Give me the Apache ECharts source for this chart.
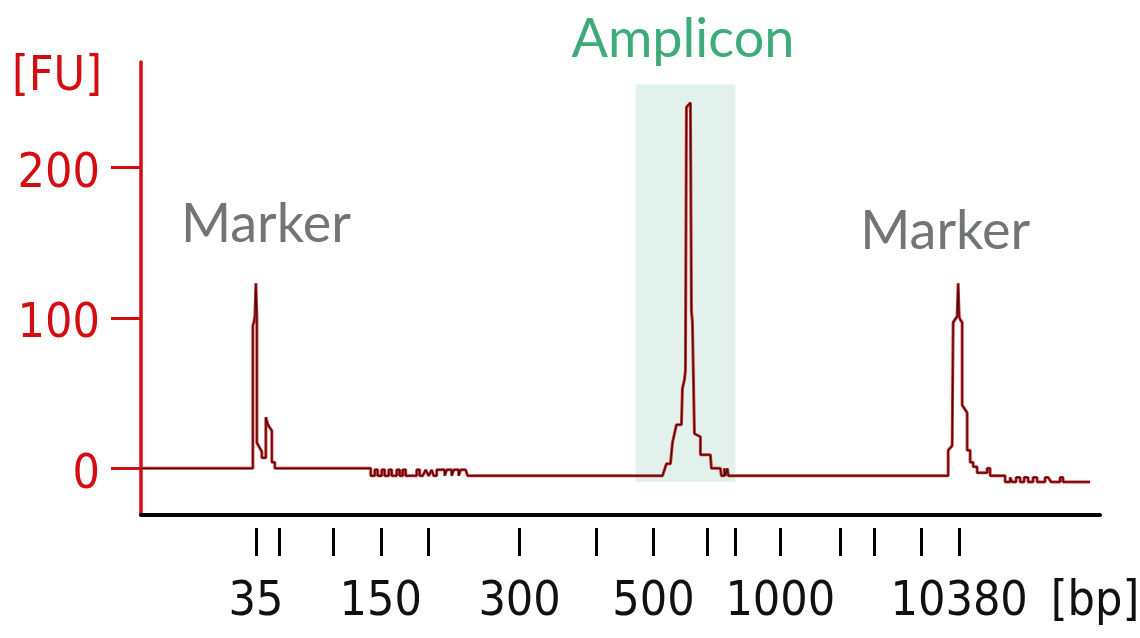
<!DOCTYPE html>
<html>
<head>
<meta charset="utf-8">
<script src="https://cdn.jsdelivr.net/npm/echarts@6/dist/echarts.min.js"></script>
<style>
html,body{margin:0;padding:0;background:#fff;}
#chart{width:1140px;height:638px;}
</style>
</head>
<body>
<div id="chart"></div>
<script>
// Ladder (size standard) positions on the migration-time axis
const ladderBp   = [35, 50, 100, 150, 200, 300, 400, 500, 600, 700, 1000, 2000, 3000, 7000, 10380];
const ladderTime = [41.5, 43.8, 49.2, 54.0, 58.8, 67.9, 75.6, 81.3, 86.7, 89.5, 94.0, 100.0, 103.4, 108.1, 111.9];
const labeledBp  = [35, 150, 300, 500, 1000, 10380];
const yTicks     = [0, 100, 200];

// Electropherogram trace: migration time (s) vs fluorescence (FU)
const traceTime = [
  30.0, 41.2, 41.2, 41.3, 41.4, 41.5, 41.6, 41.6, 42.1, 42.1, 42.5, 42.5, 42.7, 43.1, 43.1, 43.4, 43.4,
  53.0, 53.0, 53.4, 53.4, 53.7, 53.7, 54.1, 54.1, 54.4, 54.4, 54.8, 54.8, 55.1, 55.1, 55.6, 55.6, 55.9, 55.9,
  56.2, 56.2, 56.5, 56.5, 57.6, 57.6, 57.9, 57.9, 58.2, 58.5, 58.8, 59.1, 59.3, 59.3, 59.6, 59.6, 60.4, 60.4,
  60.6, 60.6, 61.1, 61.1, 61.3, 61.3, 61.8, 61.8, 62.0, 62.0, 62.5, 62.7, 63.0, 64.0,
  82.2, 82.6, 83.0, 83.2, 83.6, 84.1, 84.2, 84.4, 84.5, 84.6, 85.0, 85.1, 85.2, 85.4, 86.0, 86.0, 87.0, 87.1,
  88.0, 88.1, 88.4, 88.4, 88.5, 88.5, 88.7, 88.7, 88.8, 88.8,
  110.8, 110.8, 111.2, 111.3, 111.7, 111.8, 111.9, 112.0, 112.2, 112.2, 112.7, 112.7, 113.0, 113.0, 113.3,
  113.3, 113.7, 113.7, 114.7, 114.7, 115.0, 115.0, 116.5, 116.5, 117.0, 117.0, 117.2, 117.2, 117.6, 117.6,
  118.0, 118.0, 118.4, 118.4, 118.8, 118.8, 119.3, 119.3, 119.7, 119.7, 120.5, 120.5, 120.8, 121.1, 122.0,
  122.0, 122.3, 122.3, 125.0
];
const traceFU = [
  0, 0, 95, 97, 101, 123, 101, 17, 11, 7, 7, 34, 29, 25, 4, 4, 0,
  0, -5, -5, -1, -1, -5, -5, -1, -1, -5, -5, -1, -1, -5, -5, -1, -1, -5,
  -5, -1, -1, -5, -5, -1, -1, -5, -5, -1, -5, -1, -1, -5, -5, -1, -1, -5,
  -5, -1, -1, -5, -5, -1, -1, -5, -5, -1, -1, -5, -5, -5,
  -5, 3, 3, 17, 29, 29, 53, 59, 65, 240, 243, 105, 97, 23, 21, 9, 9, 0,
  0, -5, -5, 0, 0, -5, -5, 0, 0, -5,
  -5, 12, 15, 97, 101, 123, 101, 99, 97, 42, 37, 12, 12, 4, 4,
  1, 1, -3, -3, 0, 0, -5, -5, -9, -9, -6, -6, -9, -9, -6,
  -6, -9, -9, -6, -6, -9, -9, -6, -6, -9, -9, -6, -6, -9, -9,
  -6, -6, -9, -9
];

// Amplicon highlight window
const ampliconWindow = {t0: 79.5, t1: 89.5, fu0: -9, fu1: 255};

// Annotations
const annoText  = ['Marker', 'Amplicon', 'Marker'];
const annoTime  = [42.5, 84.25, 110.5];
const annoFU    = [162, 285, 157];
const annoColor = ['#505153', '#0f9656', '#505153'];

const traceData = traceTime.map((t, i) => [t, traceFU[i]]);
const labelTimes = labeledBp.map(b => ladderTime[ladderBp.indexOf(b)]);

const narrow = "'Liberation Sans Narrow', 'DejaVu Sans Condensed', 'Arial Narrow', sans-serif";
const RED = '#d40d12';

const chart = echarts.init(document.getElementById('chart'), null, {renderer: 'canvas'});
chart.setOption({
  animation: false,
  backgroundColor: '#ffffff',
  grid: {left: 141, right: 40, top: 62, bottom: 123, containLabel: false, outerBoundsMode: 'none'},
  xAxis: [{
    type: 'value', min: 30, max: 126,
    axisLine: {show: true, onZero: false, lineStyle: {color: '#000', width: 4}},
    axisTick: {show: false}, axisLabel: {show: false}, splitLine: {show: false}
  }, {
    type: 'value', min: 30, max: 126, position: 'bottom', offset: 13,
    axisLine: {show: false, onZero: false},
    axisTick: {show: true, inside: false, customValues: ladderTime, length: 28, lineStyle: {color: '#000', width: 3}},
    axisLabel: {
      show: true, customValues: labelTimes, margin: 51,
      fontFamily: narrow, fontSize: 48, color: '#111',
      formatter: v => {
        let best = 0;
        ladderTime.forEach((t, i) => { if (Math.abs(t - v) < Math.abs(ladderTime[best] - v)) best = i; });
        return String(ladderBp[best]);
      }
    },
    splitLine: {show: false},
    name: '[bp]', nameLocation: 'end', nameGap: -5,
    nameTextStyle: {fontFamily: narrow, fontSize: 48, color: '#111', align: 'center', verticalAlign: 'top', padding: [51, 0, 0, 0]}
  }],
  yAxis: {
    type: 'value', min: -31, max: 270,
    axisLine: {show: true, onZero: false, lineStyle: {color: RED, width: 3.5}},
    axisTick: {show: true, customValues: yTicks, length: 30, lineStyle: {color: RED, width: 3}},
    axisLabel: {
      show: true, customValues: yTicks, margin: 41,
      fontFamily: narrow, fontSize: 48, color: RED, verticalAlign: 'top', lineHeight: 14
    },
    splitLine: {show: false},
    name: '[FU]', nameLocation: 'end', nameGap: -40,
    nameTextStyle: {fontFamily: narrow, fontSize: 48, color: RED, align: 'center', padding: [0, 168, 0, 0]}
  },
  series: [{
    type: 'line', data: [], z: 1, silent: true,
    markArea: {
      silent: true,
      itemStyle: {color: '#e2f1eb'},
      data: [[{xAxis: ampliconWindow.t0, yAxis: ampliconWindow.fu0}, {xAxis: ampliconWindow.t1, yAxis: ampliconWindow.fu1}]]
    }
  }, {
    type: 'line', data: traceData, z: 3, symbol: 'none', showSymbol: false,
    lineStyle: {color: '#d42a2a', width: 3}
  }, {
    type: 'line', data: traceData, z: 4, symbol: 'none', showSymbol: false,
    lineStyle: {color: '#3a0c0c', width: 1.2}
  }, {
    type: 'scatter', z: 5, clip: false, symbolSize: 0, silent: true,
    data: annoText.map((s, i) => ({
      value: [annoTime[i], annoFU[i]], name: s,
      label: {color: annoColor[i]}
    })),
    label: {
      show: true, position: 'inside', formatter: p => p.name,
      fontFamily: "Lato, 'Noto Sans', sans-serif", fontSize: 54
    }
  }]
});
</script>
</body>
</html>
